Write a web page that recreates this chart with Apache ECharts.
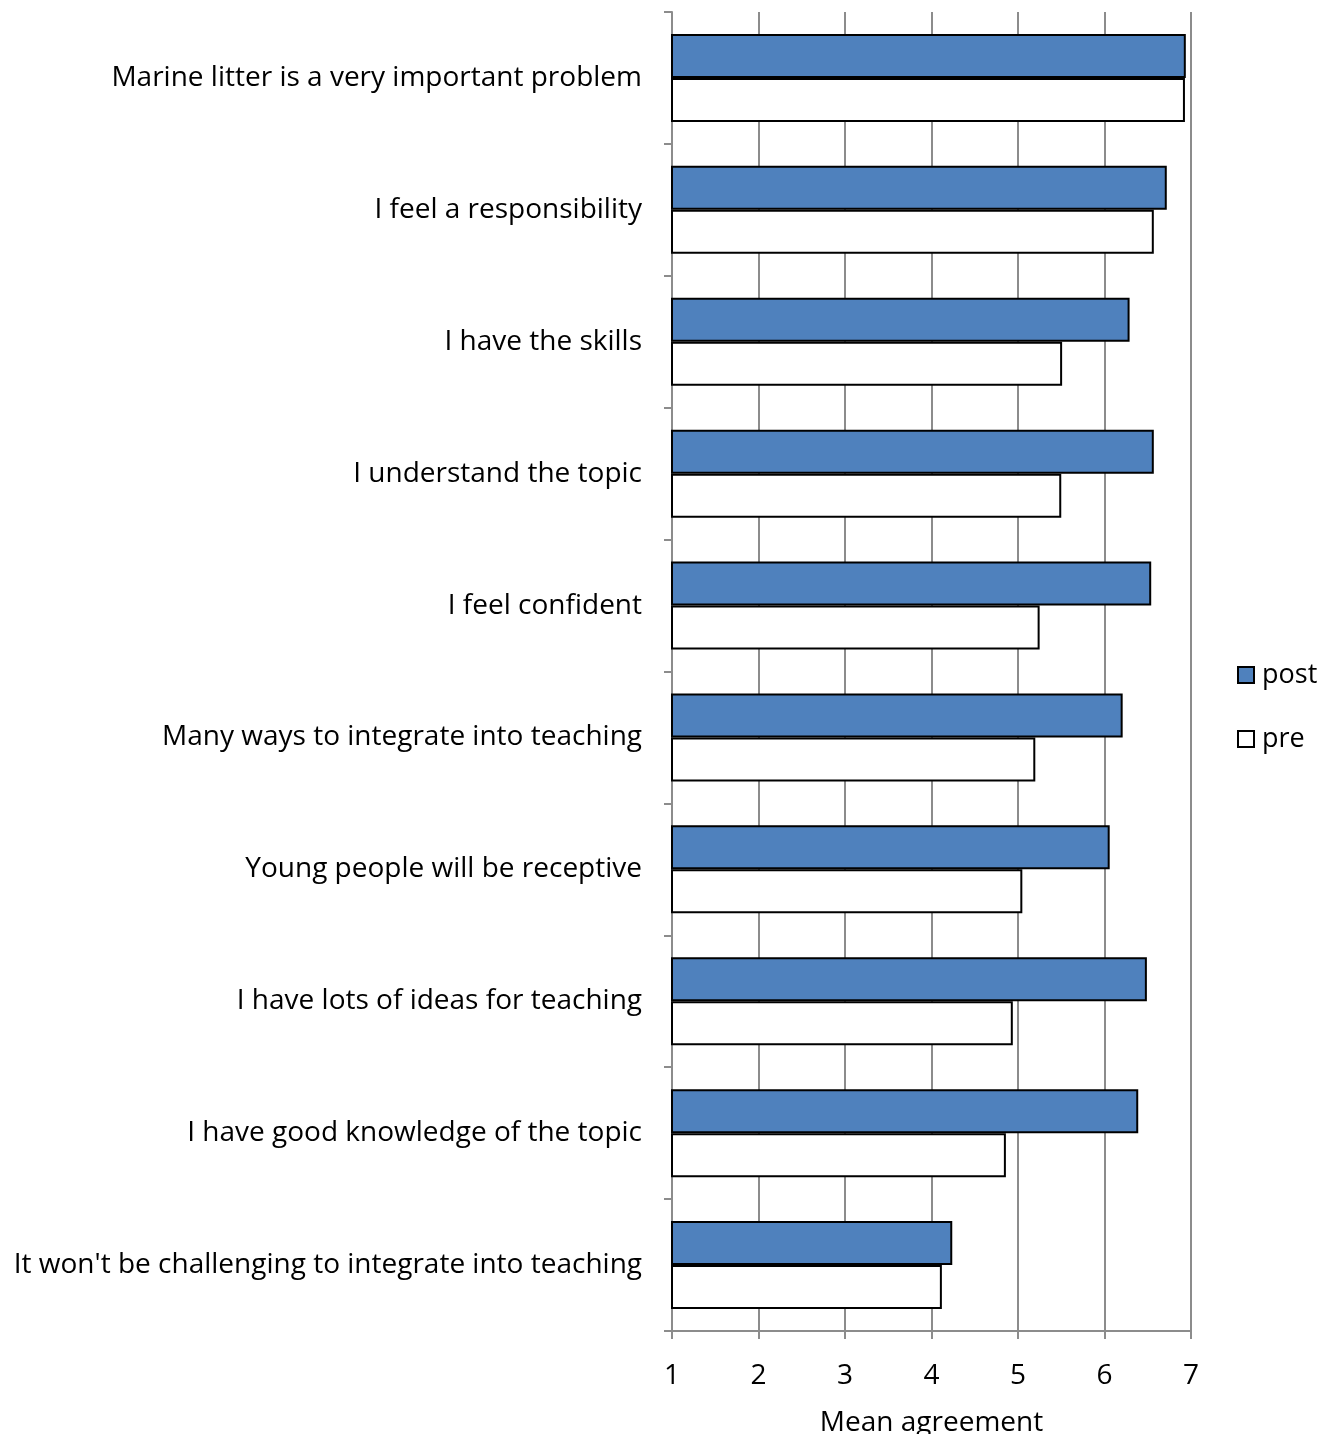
<!DOCTYPE html>
<html>
<head>
<meta charset="utf-8">
<script src="https://cdn.jsdelivr.net/npm/echarts@6/dist/echarts.min.js"></script>
<style>
  html, body { margin: 0; padding: 0; background: #fff; }
  #chart { width: 1330px; height: 1434px; }
</style>
</head>
<body>
<div id="chart"></div>
<script>
// Survey statements, top to bottom
const statements = [
  "Marine litter is a very important problem",
  "I feel a responsibility",
  "I have the skills",
  "I understand the topic",
  "I feel confident",
  "Many ways to integrate into teaching",
  "Young people will be receptive",
  "I have lots of ideas for teaching",
  "I have good knowledge of the topic",
  "It won't be challenging to integrate into teaching"
];

// Mean agreement after and before the course (1–7 scale)
const postValues = [6.94, 6.72, 6.29, 6.57, 6.54, 6.21, 6.06, 6.49, 6.39, 4.24];
const preValues  = [6.93, 6.57, 5.51, 5.50, 5.25, 5.20, 5.05, 4.94, 4.86, 4.12];

const seriesNames = ["post", "pre"];
const axisTitle = "Mean agreement";

const FONT = "'Open Sans', 'Noto Sans', sans-serif";
const GRID_GRAY = "#8c8c8c";

const chart = echarts.init(document.getElementById("chart"), null, { renderer: "canvas" });

chart.setOption({
  animation: false,
  backgroundColor: "#ffffff",
  textStyle: { fontFamily: FONT, color: "#000" },
  grid: {
    left: 672, right: 139, top: 12, bottom: 103,
    containLabel: false,
    outerBoundsMode: "none"
  },
  legend: {
    orient: "vertical",
    left: 1237,
    top: 659,
    padding: 0,
    itemWidth: 16,
    itemHeight: 16,
    itemGap: 32,
    icon: "rect",
    data: seriesNames,
    textStyle: { fontFamily: FONT, fontSize: 27, color: "#000", lineHeight: 32, padding: [0, 0, 0, 3] }
  },
  xAxis: {
    type: "value",
    min: 1,
    max: 7,
    interval: 1,
    name: axisTitle,
    nameLocation: "middle",
    nameGap: 78,
    nameTextStyle: { fontFamily: FONT, fontSize: 28, color: "#000" },
    axisLine: { show: true, lineStyle: { color: GRID_GRAY, width: 2 } },
    axisTick: { show: true, length: 8, lineStyle: { color: GRID_GRAY, width: 2 } },
    axisLabel: { fontFamily: FONT, fontSize: 28, color: "#000", margin: 31 },
    splitLine: { show: true, lineStyle: { color: GRID_GRAY, width: 2 } }
  },
  yAxis: {
    type: "category",
    inverse: true,
    data: statements,
    axisLine: { show: true, lineStyle: { color: GRID_GRAY, width: 2 } },
    axisTick: { show: true, length: 8, alignWithLabel: false, lineStyle: { color: GRID_GRAY, width: 2 } },
    axisLabel: { fontFamily: FONT, fontSize: 28, color: "#000", margin: 30 },
    splitLine: { show: false }
  },
  series: [
    {
      name: seriesNames[0],
      type: "bar",
      data: postValues,
      barGap: "0%",
      barCategoryGap: "33.3%",
      itemStyle: { color: "#4f81bd", borderColor: "#000", borderWidth: 2 }
    },
    {
      name: seriesNames[1],
      type: "bar",
      data: preValues,
      barGap: "0%",
      barCategoryGap: "33.3%",
      itemStyle: { color: "#ffffff", borderColor: "#000", borderWidth: 2 }
    }
  ]
});
</script>
</body>
</html>
